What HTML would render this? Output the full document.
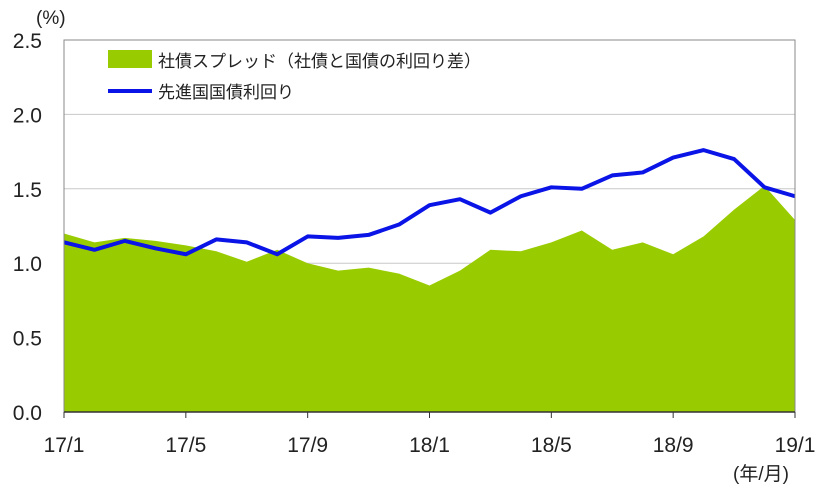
<!DOCTYPE html>
<html><head><meta charset="utf-8"><style>
body{margin:0;background:#fff;}
svg{display:block;font-family:"Liberation Sans","Noto Sans CJK JP",sans-serif;}
</style></head><body>
<svg id="c" width="826" height="492"></svg>
<script>
const categories=["17/1","17/2","17/3","17/4","17/5","17/6","17/7","17/8","17/9","17/10","17/11","17/12","18/1","18/2","18/3","18/4","18/5","18/6","18/7","18/8","18/9","18/10","18/11","18/12","19/1"];
const spreadValues=[1.20,1.14,1.17,1.15,1.12,1.08,1.01,1.09,1.00,0.95,0.97,0.93,0.85,0.95,1.09,1.08,1.14,1.22,1.09,1.14,1.06,1.18,1.36,1.52,1.29];
const yieldValues=[1.14,1.09,1.15,1.10,1.06,1.16,1.14,1.06,1.18,1.17,1.19,1.26,1.39,1.43,1.34,1.45,1.51,1.50,1.59,1.61,1.71,1.76,1.70,1.51,1.45];
const yTicks=["0.0","0.5","1.0","1.5","2.0","2.5"];
const xTickLabels=["17/1","17/5","17/9","18/1","18/5","18/9","19/1"];
const NS="http://www.w3.org/2000/svg";
const svg=document.getElementById('c');
const L=64,R=795,T=40,B=412;
const x=i=>L+(R-L)*i/(categories.length-1);
const y=v=>B-(B-T)*v/2.5;
function mk(t,a,p){const e=document.createElementNS(NS,t);for(const k in a)e.setAttribute(k,a[k]);(p||svg).appendChild(e);return e;}
yTicks.forEach(t=>{const v=parseFloat(t);
 if(v>0&&v<2.5){const g=mk('line',{x1:L,x2:R,y1:y(v),y2:y(v),stroke:'#c8c8c8','stroke-width':1});
 
 }
 const tx=mk('text',{x:42,y:y(v)+8,'text-anchor':'end','font-size':21,fill:'#222'});tx.textContent=t;
 
 
});
let d=`M${x(0)},${B}`;spreadValues.forEach((v,i)=>d+=`L${x(i)},${y(v)}`);d+=`L${x(spreadValues.length-1)},${B}Z`;
const area=mk('path',{d:d,fill:'#99cc00'});


const line=mk('polyline',{points:yieldValues.map((v,i)=>x(i)+','+y(v)).join(' '),fill:'none',stroke:'#0a14e6','stroke-width':4,'stroke-linejoin':'round'});


const fr=mk('rect',{x:L,y:T,width:R-L,height:B-T,fill:'none',stroke:'#888','stroke-width':1});


const ax=mk('line',{x1:L,x2:R,y1:B,y2:B,stroke:'#333','stroke-width':1.5});


xTickLabels.forEach(lbl=>{const i=categories.indexOf(lbl);
 const tk=mk('line',{x1:x(i),x2:x(i),y1:B,y2:B+6,stroke:'#333'});
 
 
 const t=mk('text',{x:x(i),y:452,'text-anchor':'middle','font-size':21,fill:'#222'});t.textContent=lbl;
 
 
});
</script>
<svg style="position:absolute;left:0;top:0" width="826" height="492">
<text x="36" y="24" font-size="19" fill="#222">(%)</text>
<text x="733" y="480" font-size="19" fill="#222">(年/月)</text>
<rect x="108" y="50" width="44" height="18" fill="#99cc00"/>
<text x="158" y="67" font-size="17" fill="#222">社債スプレッド（社債と国債の利回り差）</text>
<line x1="108" y1="91" x2="152" y2="91" stroke="#0a14e6" stroke-width="4"/>
<text x="158" y="98" font-size="17" fill="#222">先進国国債利回り</text>
</svg>
</body></html>
